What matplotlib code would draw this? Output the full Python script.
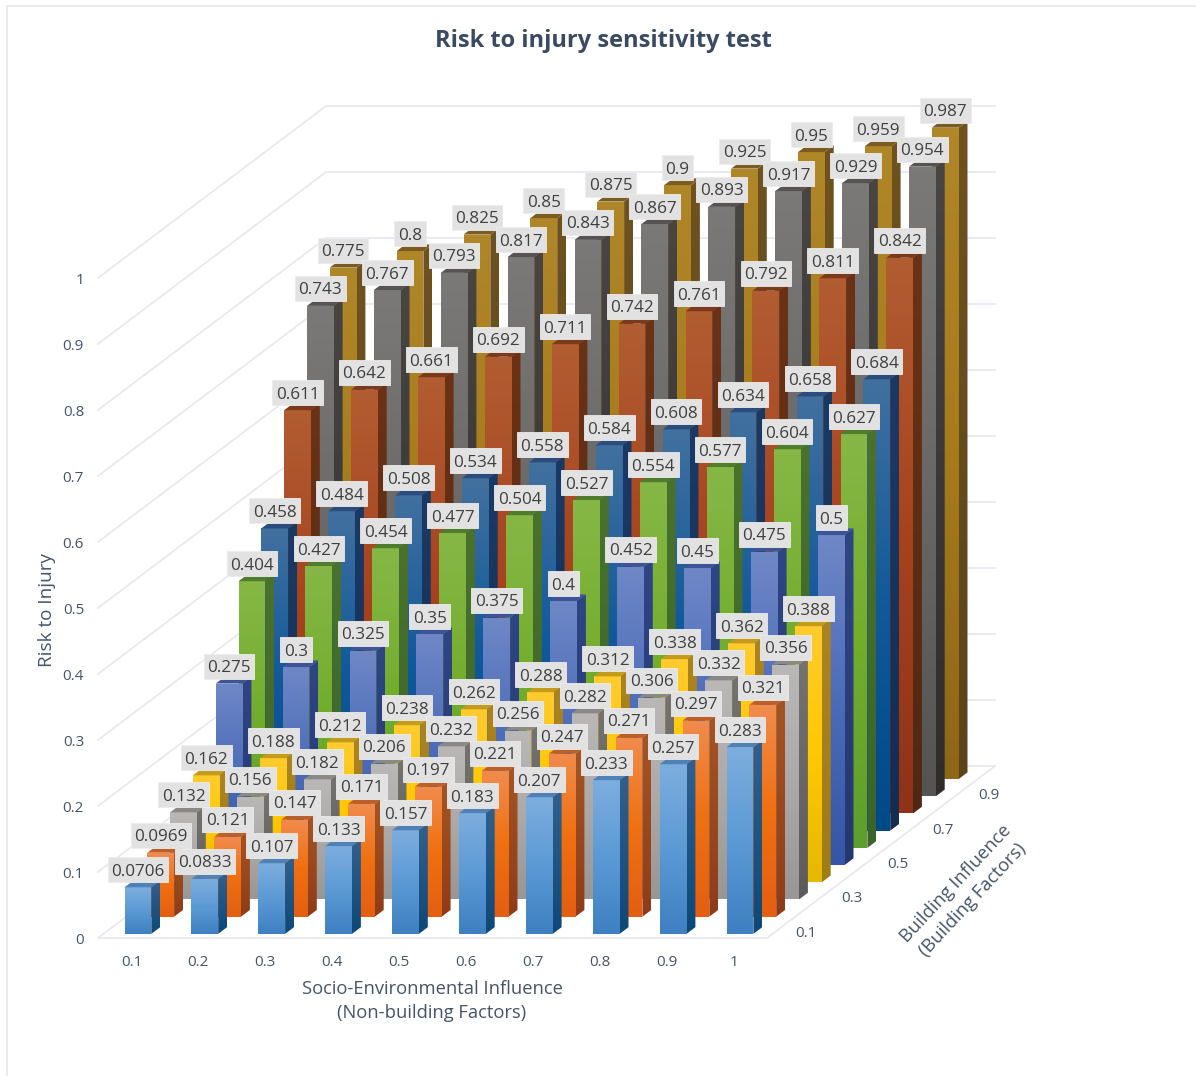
import numpy as np
import matplotlib
matplotlib.use('Agg')
import matplotlib.pyplot as plt
from matplotlib.colors import LinearSegmentedColormap
from matplotlib.patches import Polygon, Rectangle

plt.rcParams['font.family'] = ['Open Sans', 'DejaVu Sans']

# Data, one series per building influence step (front to back)
socio_labels = ['0.1', '0.2', '0.3', '0.4', '0.5', '0.6', '0.7', '0.8', '0.9', '1']
building_labels = ['0.1', '', '0.3', '', '0.5', '', '0.7', '', '0.9', '']
risk_labels = ['0', '0.1', '0.2', '0.3', '0.4', '0.5', '0.6', '0.7', '0.8', '0.9', '1']
risk_ticks = [0, 0.1, 0.2, 0.3, 0.4, 0.5, 0.6, 0.7, 0.8, 0.9, 1]

row_01 = [0.0706, 0.0833, 0.107, 0.133, 0.157, 0.183, 0.207, 0.233, 0.257, 0.283]
row_02 = [0.0969, 0.121, 0.147, 0.171, 0.197, 0.221, 0.247, 0.271, 0.297, 0.321]
row_03 = [0.132, 0.156, 0.182, 0.206, 0.232, 0.256, 0.282, 0.306, 0.332, 0.356]
row_04 = [0.162, 0.188, 0.212, 0.238, 0.262, 0.288, 0.312, 0.338, 0.362, 0.388]
row_05 = [0.275, 0.3, 0.325, 0.35, 0.375, 0.4, 0.452, 0.45, 0.475, 0.5]
row_06 = [0.404, 0.427, 0.454, 0.477, 0.504, 0.527, 0.554, 0.577, 0.604, 0.627]
row_07 = [0.458, 0.484, 0.508, 0.534, 0.558, 0.584, 0.608, 0.634, 0.658, 0.684]
row_08 = [0.611, 0.642, 0.661, 0.692, 0.711, 0.742, 0.761, 0.792, 0.811, 0.842]
row_09 = [0.743, 0.767, 0.793, 0.817, 0.843, 0.867, 0.893, 0.917, 0.929, 0.954]
row_10 = [0.775, 0.8, 0.825, 0.85, 0.875, 0.9, 0.925, 0.95, 0.959, 0.987]
rows = [row_01, row_02, row_03, row_04, row_05, row_06, row_07, row_08, row_09, row_10]

# front face (top, middle, bottom), side face (top, bottom), top face
front_colors = [
    ('#7DADDE', '#5B9AD5', '#3F80C2'),
    ('#F18B4C', '#EF7010', '#E45F12'),
    ('#BAB8B6', '#ACAAA8', '#999796'),
    ('#FFCB2E', '#FFC800', '#E6B800'),
    ('#6E87C6', '#4C6CB8', '#3556A6'),
    ('#86B746', '#72AD2C', '#5E9E2E'),
    ('#41709F', '#11599A', '#004A87'),
    ('#B25C32', '#A6431E', '#8E3218'),
    ('#7B7977', '#6A6866', '#565452'),
    ('#AF8628', '#A67B1C', '#8E6618'),
]
side_colors = [
    ('#31608E', '#0D4877'),
    ('#A55523', '#8E3C18'),
    ('#75736F', '#5C5B5A'),
    ('#AB8420', '#A07C14'),
    ('#2F4585', '#24376F'),
    ('#4A722D', '#3A642C'),
    ('#1A3A66', '#142C50'),
    ('#6B3216', '#4F2813'),
    ('#484543', '#2E2D2C'),
    ('#6E5220', '#5B441B'),
]
top_colors = ['#4F80B6', '#BE5F2A', '#8B8987', '#C59C1A', '#3E5499',
              '#4F7D2D', '#2B4D7D', '#7B3A1C', '#565352', '#7B5B20']

axis_color = '#44546A'
grid_color = '#E6E8F0'

# pixel scale of the chart frame
width_px, height_px = 1196, 1076
origin_px = (98, 938)
cat_px = 66.9
risk_px = 660.0
depth_dx = 22.8 / cat_px    # x shift for one row back
depth_dy = 17.2 / risk_px   # y shift for one row back
bar_w = 0.4
bar_d = 0.39
bar_start = 0.24
bar_off = 1.0 / cat_px


def pt(x, d, z):
    return (x + d * depth_dx, z + d * depth_dy)


def gradient(ax, verts, stops, z):
    cm = LinearSegmentedColormap.from_list('g', stops)
    xs = [v[0] for v in verts]
    ys = [v[1] for v in verts]
    im = ax.imshow(np.linspace(0, 1, 64).reshape(-1, 1), cmap=cm, aspect='auto',
                   origin='upper', interpolation='bilinear',
                   extent=(min(xs), max(xs), min(ys), max(ys)), zorder=z)
    clip = Polygon(verts, closed=True, transform=ax.transData)
    im.set_clip_path(clip)


fig = plt.figure(figsize=(width_px / 100, height_px / 100), dpi=100)
ax = fig.add_axes([0, 0, 1, 1])
ax.axis('off')
xlim = (-origin_px[0] / cat_px, (width_px - origin_px[0]) / cat_px)
ylim = ((origin_px[1] - height_px) / risk_px, origin_px[1] / risk_px)

# chart frame
frame = Rectangle((6.5 / width_px, -0.02), 1.1, 1 - 5.5 / height_px + 0.02, transform=ax.transAxes,
                  fill=False, edgecolor=grid_color, linewidth=1.2, zorder=0)
ax.add_patch(frame)

# walls
for tick in risk_ticks:
    a = pt(0, 0, tick)
    b = pt(0, 10, tick)
    c = pt(10, 10, tick)
    ax.plot([a[0], b[0], c[0]], [a[1], b[1], c[1]], color=grid_color, lw=1.2, zorder=1)
a = pt(0, 0, 0)
b = pt(10, 0, 0)
c = pt(10, 10, 0)
ax.plot([a[0], b[0], c[0]], [a[1], b[1], c[1]], color=grid_color, lw=1.2, zorder=1)

# bars, back row first
z = 10
for r in range(9, -1, -1):
    d0 = r + bar_start
    d1 = d0 + bar_d
    for i, val in enumerate(rows[r]):
        x0 = i + (1 - bar_w) / 2 + bar_off
        x1 = x0 + bar_w
        fx, fy = pt(x0, d0, 0)
        ax.bar(fx, val, width=bar_w, bottom=fy, align='edge',
               color=front_colors[r][1], linewidth=0, zorder=z)
        front = [pt(x0, d0, 0), pt(x1, d0, 0), pt(x1, d0, val), pt(x0, d0, val)]
        gradient(ax, front, front_colors[r], z + 0.1)
        side = [pt(x1, d0, 0), pt(x1, d1, 0), pt(x1, d1, val), pt(x1, d0, val)]
        gradient(ax, side, side_colors[r], z + 0.2)
        top = [pt(x0, d0, val), pt(x1, d0, val), pt(x1, d1, val), pt(x0, d1, val)]
        ax.add_patch(Polygon(top, closed=True, facecolor=top_colors[r], edgecolor='none', zorder=z + 0.3))
        z += 1

# data labels go over every bar, box is sized from the text width
renderer = fig.canvas.get_renderer()
for r in range(9, -1, -1):
    d0 = r + bar_start
    for i, val in enumerate(rows[r]):
        x0 = i + (1 - bar_w) / 2 + bar_off
        lx, ly = pt(x0 + bar_w / 2, d0, val)
        t = ax.text(lx, ly + 15.5 / risk_px, f'{val:.3g}', ha='center', va='center',
                    fontsize=12.3, color='#404040', zorder=1000 + z + 0.5)
        box_w = (t.get_window_extent(renderer).width + 7) / cat_px
        box_h = 25 / risk_px
        ax.add_patch(Rectangle((lx - box_w / 2, ly + 17.5 / risk_px - box_h / 2), box_w, box_h,
                               facecolor='#E2E2E2', edgecolor='#ECECEC', linewidth=0.6, zorder=1000 + z))
        z += 1

# tick labels
for tick, label in zip(risk_ticks, risk_labels):
    ax.text(-14 / cat_px, tick - 2.5 / risk_px, label, ha='right', va='center', fontsize=11, color=axis_color)
for i, label in enumerate(socio_labels):
    ax.text(i + 0.5, -24 / risk_px, label, ha='center', va='center', fontsize=11, color=axis_color)
for r, label in enumerate(building_labels):
    if label:
        bx, by = pt(10, r + 0.5, 0)
        ax.text(bx + 28 / cat_px, by - 4 / risk_px, label, ha='center', va='center', fontsize=11, color=axis_color)

# titles
ax.text(505 / cat_px, 897 / risk_px, 'Risk to injury sensitivity test', ha='center', va='center',
        fontsize=17, fontweight='bold', color='#3B4A63')
ax.text(334 / cat_px, -63 / risk_px, 'Socio-Environmental Influence\n(Non-building Factors)',
        ha='center', va='center', fontsize=13.2, color=axis_color, linespacing=1.38)
ax.text(-51 / cat_px, 328 / risk_px, 'Risk to Injury', ha='center', va='center', rotation=90,
        fontsize=13.6, color=axis_color)
ax.text(866 / cat_px, 46 / risk_px, 'Building Influence\n(Building Factors)', ha='center', va='center',
        rotation=47, rotation_mode='anchor', fontsize=13.2, color=axis_color, linespacing=1.38)

ax.set_xlim(xlim)
ax.set_ylim(ylim)
fig.savefig('out.png', dpi=100)
